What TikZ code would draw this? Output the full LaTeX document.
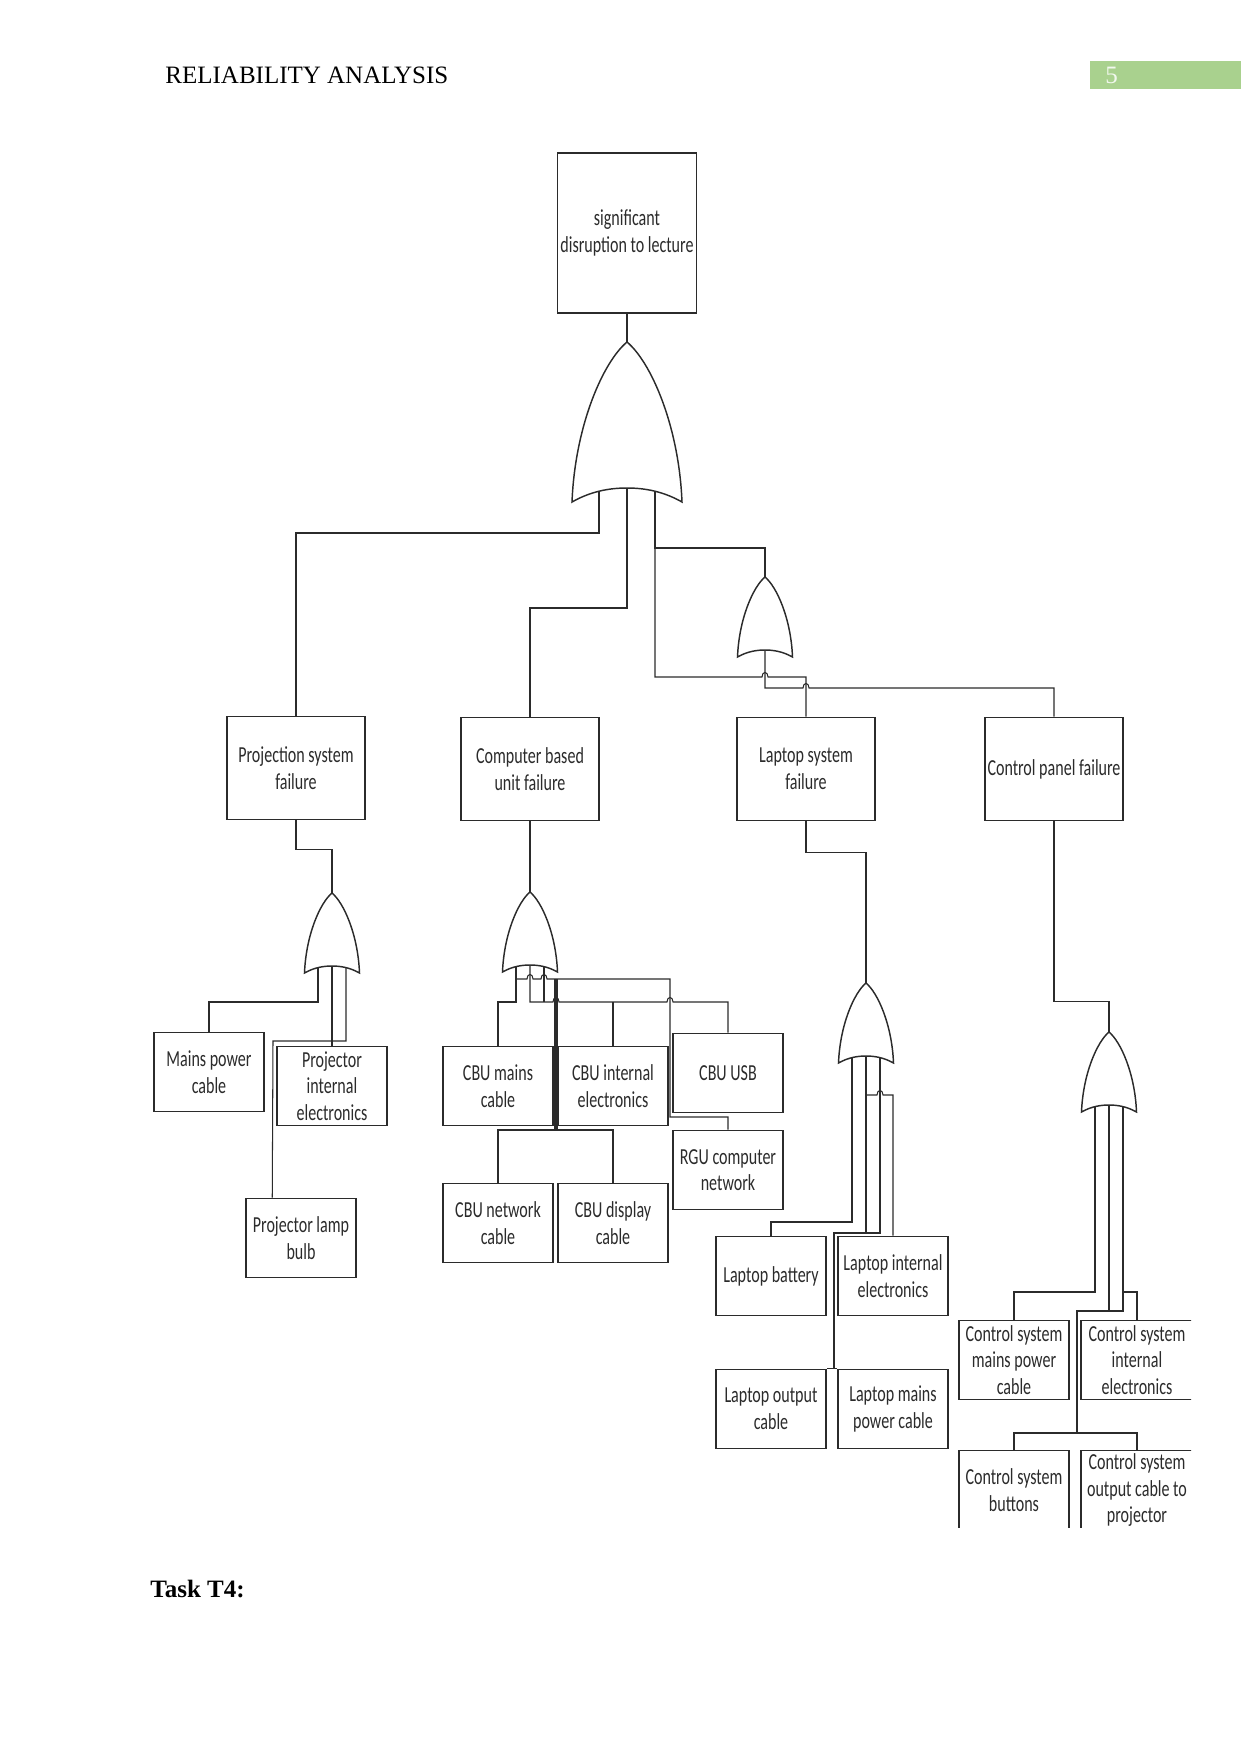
\documentclass[tikz,border=0pt]{standalone}
\usepackage{fontspec}
\setmainfont{Liberation Serif}
\newfontfamily\boxfont[FakeStretch=0.7]{Carlito}
\usetikzlibrary{positioning}
\definecolor{Ink}{HTML}{2B2B2B}
\definecolor{PageGreen}{HTML}{A9D18E}

\tikzset{
  box/.style={draw=Ink, line width=0.8pt, minimum width=52.8pt, minimum height=38pt, inner sep=1pt},
  bigbox/.style={box, minimum width=66.2pt, minimum height=49.5pt},
  wire/.style={draw=Ink, line width=0.5pt},
  heavywire/.style={draw=Ink, line width=1.6pt},
  pics/orgate/.style={code={
    \draw[Ink, line width=0.7pt] (0,0) .. controls (12,10) and (26,42) .. (27.5,80)
      .. controls (17,74) and (7,73) .. (0,73)
      .. controls (-7,73) and (-17,74) .. (-27.5,80)
      .. controls (-26,42) and (-12,10) .. cycle;
    \coordinate (-top) at (0,0);
    \coordinate (-o1) at (-14,74.5);
    \coordinate (-o2) at (0,73);
    \coordinate (-o3) at (14,74.5);
  }}
}

\begin{document}
\begin{tikzpicture}[x=0.48pt,y=-0.48pt,every node/.style={font=\boxfont\fontsize{11}{12.8}\selectfont, text=Ink, align=center}]
  \useasboundingbox (0,0) rectangle (1241,1754);

  % page header and footer text
  \node[anchor=base west, inner sep=0pt, font=\rmfamily\fontsize{12}{14}\selectfont, text=black] (header) at (165,83) {RELIABILITY ANALYSIS};
  \fill[PageGreen] (1090,61) rectangle (1241,89);
  \node[anchor=base west, inner sep=0pt, font=\rmfamily\fontsize{12}{14}\selectfont, text=white!85!PageGreen] (pagenum) at (1105,83) {5};
  \node[anchor=base west, inner sep=0pt, font=\rmfamily\bfseries\fontsize{12}{14}\selectfont, text=black] (task) at (150,1597) {Task T4:};

  \begin{scope}
  \clip (0,100) rectangle (1191,1527);

  % events
  \node[box, minimum width=66.7pt, minimum height=76.8pt] (top) at (627,233) {significant\\disruption to lecture};
  \node[bigbox] (proj) at (296,768) {Projection system\\failure};
  \node[bigbox] (cbu) at (530,769) {Computer based\\unit failure};
  \node[bigbox] (lap) at (806,769) {Laptop system\\failure};
  \node[bigbox] (ctrl) at (1054,769) {Control panel failure};

  \node[box] (mains) at (209,1072) {Mains power\\cable};
  \node[box] (projint) at (332,1086) {Projector\\internal\\electronics};
  \node[box] (lamp) at (301,1238) {Projector lamp\\bulb};

  \node[box] (cbumains) at (498,1086) {CBU mains\\cable};
  \node[box] (cbuint) at (613,1086) {CBU internal\\electronics};
  \node[box] (cbuusb) at (728,1073) {CBU USB};
  \node[box] (rgu) at (728,1170) {RGU computer\\network};
  \node[box] (cbunet) at (498,1223) {CBU network\\cable};
  \node[box] (cbudisp) at (613,1223) {CBU display\\cable};

  \node[box] (lapbat) at (771,1276) {Laptop battery};
  \node[box] (lapint) at (893,1276) {Laptop internal\\electronics};
  \node[box] (lapout) at (771,1409) {Laptop output\\cable};
  \node[box] (lapmains) at (893,1409) {Laptop mains\\power cable};

  \node[box] (csmains) at (1014,1360) {Control system\\mains power\\cable};
  \node[box, minimum width=54pt] (csint) at (1137,1360) {Control system\\internal\\electronics};
  \node[box] (csbtn) at (1014,1490) {Control system\\buttons};
  \node[box, minimum width=54pt] (csout) at (1137,1490) {Control system\\output cable to\\projector};

  % gates
  \pic[scale=2] (gt) at (627,342) {orgate};
  \pic (g2) at (765,577) {orgate};
  \pic (gp) at (332,893) {orgate};
  \pic (gc) at (530,892) {orgate};
  \pic (gl) at (866,983) {orgate};
  \pic (gk) at (1109,1032) {orgate};

  % top level
  \draw[wire] (top.south) -- (gt-top);
  \draw[wire] (gt-o1) -- (599,533) -| (proj.north);
  \draw[wire] (gt-o2) -- (627,608) -| (cbu.north);
  \draw[wire] (gt-o3) -- (655,548) -| (g2-top);
  \draw[wire] (655,548) -- (655,677) -- (762,677) .. controls (762,671) and (768,671) .. (768,677) -| (lap.north);
  \draw[wire] (g2-o2) -- (765,688) -- (803,688) .. controls (803,682) and (809,682) .. (809,688) -| (ctrl.north);

  \foreach \b/\g/\d in {proj/gp/29,cbu/gc/20,lap/gl/31,ctrl/gk/180}
    \draw[wire] (\b.south) -- ++(0,\d) -| (\g-top);

  % projection system
  \draw[wire] (gp-o1) -- (318,1002) -| (mains.north);
  \draw[wire] (gp-o2) -- (projint.north);
  \draw[wire] (gp-o3) -- (346,1041) -- (273,1041) -- ([xshift=13pt]lamp.north west);

  % computer based unit
  \draw[wire] (gc-o1) -- (516,1002) -| (cbumains.north);
  \draw[wire] (516,979) -- (527,979) .. controls (527,973) and (533,973) .. (533,979)
    -- (541,979) .. controls (541,973) and (547,973) .. (547,979) -- (670,979) -- (670,1117) -| (rgu.north);
  \draw[heavywire] (556,979) -- (556,1130);
  \draw[wire] (cbunet.north) |- (556,1130) -| (cbudisp.north);
  \draw[wire] (gc-o2) -- (530,1002) -- (553,1002) .. controls (553,996) and (559,996) .. (559,1002)
    -- (667,1002) .. controls (667,996) and (673,996) .. (673,1002) -| (cbuusb.north);
  \draw[wire] (cbuint.north) -- (613,1002);
  \draw[wire] (gc-o3) -- (544,1002);

  % laptop system
  \draw[wire] (gl-o1) -- (852,1222) -| (lapbat.north);
  \draw[wire] (gl-o2) -- (866,1233) -- (834,1233) -- (834,1369);
  \draw[wire] (lapout.north east) -- (lapmains.north west);
  \draw[wire] (gl-o3) -- (880,1233) -- (866,1233);
  \draw[wire] (866,1095) -- (877,1095) .. controls (877,1089) and (883,1089) .. (883,1095) -| (lapint.north);

  % control panel
  \draw[wire] (gk-o1) -- (1095,1292) -| (csmains.north);
  \draw[wire] (gk-o2) -- (1109,1311) -- (1077,1311) -- (1077,1433);
  \draw[wire] (csbtn.north) |- (1077,1433) -| (csout.north);
  \draw[wire] (gk-o3) -- (1123,1311) -- (1109,1311);
  \draw[wire] (1123,1292) -| (csint.north);
  \end{scope}
\end{tikzpicture}
\end{document}
